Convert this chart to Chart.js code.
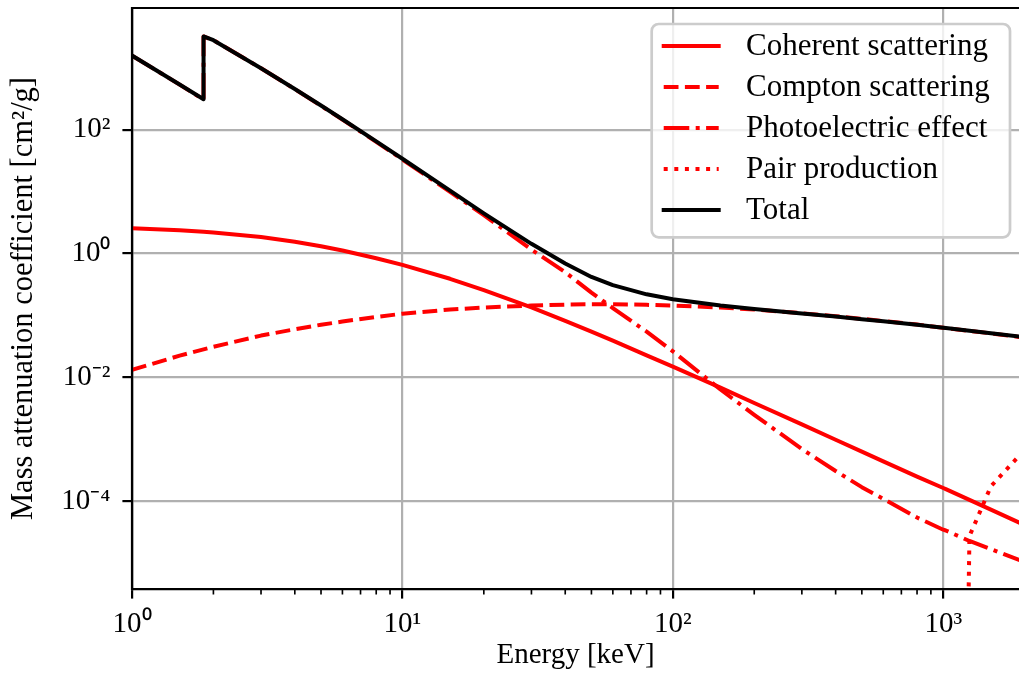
<!DOCTYPE html>
<html><head><meta charset="utf-8">
<script src="https://cdn.jsdelivr.net/npm/chart.js@4/dist/chart.umd.min.js"></script>
<style>html,body{margin:0;padding:0;background:#fff;} #wrap{width:1019px;height:675px;}</style>
</head><body><div id="wrap"><canvas id="c" width="1019" height="675"></canvas></div>
<script>
// ---- Data (silicon mass attenuation) ----
const energyKeV = [1, 1.5, 1.839, 1.839, 2, 3, 4, 5, 6, 8, 10, 15, 20, 30, 40, 50, 60, 80, 100, 150, 200, 300, 400, 500, 600, 800, 1000, 1022, 1250, 1500, 2000];
const coherent = [2.57, 2.37, 2.247, 2.247, 2.19, 1.85, 1.555, 1.315, 1.123, 0.842, 0.656, 0.392, 0.258, 0.135, 0.0823, 0.0551, 0.0393, 0.0228, 0.0150, 0.00685, 0.00388, 0.00175, 0.00099, 0.000637, 0.000444, 0.000251, 0.000165, 0.000158, 0.000106, 0.0000738, 0.0000416];
const compton = [0.0133, 0.0225, 0.0285, 0.0285, 0.0313, 0.0475, 0.0600, 0.0710, 0.0800, 0.0950, 0.1070, 0.1250, 0.1350, 0.1450, 0.1500, 0.1520, 0.1520, 0.1490, 0.1450, 0.1350, 0.1250, 0.1090, 0.0975, 0.0885, 0.0815, 0.0715, 0.0636, 0.0629, 0.0567, 0.0516, 0.0440];
const photoelectric = [1567, 533, 306, 3188, 2773, 976, 451, 243, 145, 63.4, 33.0, 9.9, 4.19, 1.16, 0.50, 0.235, 0.132, 0.055, 0.0265, 0.0064, 0.0025, 0.00070, 0.00031, 0.00017, 0.00011, 0.000055, 0.000035, 0.000034, 0.000023, 0.000017, 0.0000105];
// pair production: none below threshold (1022 keV, where it is effectively zero)
const pairProduction = [null, null, null, null, null, null, null, null, null, null, null, null, null, null, null, null, null, null, null, null, null, null, null, null, null, null, null, 1e-30, 0.0000275, 0.000175, 0.00068];
const total = [1570, 535.5, 309.2, 3192, 2777, 978.4, 452.9, 245.0, 147.0, 64.68, 33.89, 10.34, 4.464, 1.436, 0.69, 0.42, 0.31, 0.22, 0.1835, 0.1448, 0.1275, 0.1082, 0.09614, 0.08748, 0.08077, 0.07082, 0.06361, 0.06296, 0.05688, 0.05183, 0.04480];

const seriesNames = ['Coherent scattering', 'Compton scattering', 'Photoelectric effect', 'Pair production', 'Total'];
const xTickValues = [1, 10, 100, 1000];
const xTickLabels = ['10\u2070', '10\u00B9', '10\u00B2', '10\u00B3'];
const yTickValues = [1e-4, 1e-2, 1, 100];
const yTickLabels = ['10\u207B\u2074', '10\u207B\u00B2', '10\u2070', '10\u00B2'];
const xLabel = 'Energy [keV]';
const yLabel = 'Mass attenuation coefficient [cm\u00B2/g]';

function pts(vals) {
  return energyKeV.map((e, i) => ({x: e, y: vals[i]})).filter(p => p.y !== null);
}

const FONT = "'Liberation Serif', 'Times New Roman', serif";
const FS = 29;
Chart.defaults.font.family = FONT;
Chart.defaults.font.size = FS;
Chart.defaults.color = '#000';

const LW = 4;
const styles = [
  {color: '#ff0000', dash: []},
  {color: '#ff0000', dash: [3.7 * LW, 1.6 * LW]},
  {color: '#ff0000', dash: [6.4 * LW, 1.6 * LW, 1 * LW, 1.6 * LW]},
  {color: '#ff0000', dash: [1 * LW, 1.65 * LW]},
  {color: '#000000', dash: []}
];
const seriesData = [coherent, compton, photoelectric, pairProduction, total];

const datasets = seriesData.map((vals, i) => ({
  label: seriesNames[i],
  data: pts(vals),
  borderColor: styles[i].color,
  backgroundColor: styles[i].color,
  borderWidth: LW,
  borderDash: styles[i].dash,
  borderJoinStyle: 'round',
  borderCapStyle: 'butt',
  pointRadius: 0,
  tension: 0,
  fill: false,
  clip: 0,
  order: 5 - i
}));

const extras = {
  id: 'extras',
  afterDatasetsDraw(chart) {
    const ctx = chart.ctx, ca = chart.chartArea, s = chart.scales.x;
    ctx.save();
    // minor ticks on x axis
    ctx.strokeStyle = '#000';
    ctx.lineWidth = 1.65;
    for (let d = 0; d < 4; d++) {
      for (let m = 2; m <= 9; m++) {
        const v = m * Math.pow(10, d);
        if (v < s.min || v > s.max) continue;
        const px = s.getPixelForValue(v);
        ctx.beginPath();
        ctx.moveTo(px, ca.bottom);
        ctx.lineTo(px, ca.bottom + 5.5);
        ctx.stroke();
      }
    }
    // spines on top
    ctx.lineWidth = 2.2;
    ctx.lineCap = 'square';
    ctx.beginPath();
    ctx.moveTo(ca.left, ca.top); ctx.lineTo(ca.right + 2, ca.top);
    ctx.moveTo(ca.left, ca.top); ctx.lineTo(ca.left, ca.bottom);
    ctx.lineTo(ca.right + 2, ca.bottom);
    ctx.stroke();

    // legend box
    const bx = ca.right - 367.3, by = ca.top + 16, bw = 358.3, bh = 213.3, r = 7;
    ctx.beginPath();
    ctx.moveTo(bx + r, by);
    ctx.arcTo(bx + bw, by, bx + bw, by + bh, r);
    ctx.arcTo(bx + bw, by + bh, bx, by + bh, r);
    ctx.arcTo(bx, by + bh, bx, by, r);
    ctx.arcTo(bx, by, bx + bw, by, r);
    ctx.closePath();
    ctx.fillStyle = 'rgba(255,255,255,0.8)';
    ctx.fill();
    ctx.strokeStyle = '#cccccc';
    ctx.lineWidth = 2.7;
    ctx.stroke();

    chart.data.datasets.forEach((ds, i) => {
      const cy = by + 22 + i * 41;
      ctx.strokeStyle = ds.borderColor;
      ctx.lineWidth = LW;
      ctx.setLineDash(ds.borderDash);
      ctx.lineCap = ds.borderDash.length ? 'butt' : 'square';
      ctx.beginPath();
      ctx.moveTo(bx + 12, cy);
      ctx.lineTo(bx + 67, cy);
      ctx.stroke();
      ctx.setLineDash([]);
      ctx.fillStyle = '#000';
      ctx.font = '31px ' + FONT;
      ctx.textAlign = 'left';
      ctx.textBaseline = 'middle';
      ctx.fillText(ds.label, bx + 94.3, cy + 1);
    });
    ctx.restore();
  }
};

new Chart(document.getElementById('c'), {
  type: 'line',
  data: {datasets},
  plugins: [extras],
  options: {
    responsive: false,
    animation: false,
    devicePixelRatio: 1,
    layout: {padding: {top: 8, right: 0, left: 0, bottom: 0}},
    plugins: {legend: {display: false}, tooltip: {enabled: false}},
    scales: {
      x: {
        type: 'logarithmic', position: 'bottom', min: 1, max: 1906,
        afterBuildTicks: s => { s.ticks = xTickValues.map(v => ({value: v, major: true})); },
        afterFit: s => { s.height = 86; s.paddingLeft = 0; s.paddingRight = 0; },
        ticks: {autoSkip: false, maxRotation: 0, minRotation: 0, padding: 8, color: '#000',
          font: {size: FS, lineHeight: 1.2},
          callback: (v, i) => xTickLabels[i]},
        grid: {color: '#b0b0b0', lineWidth: 2.2, drawTicks: true, tickLength: 9.6, tickColor: '#000', tickWidth: 2.2},
        border: {display: true, color: '#000', width: 2.2},
        title: {display: true, text: xLabel, color: '#000', font: {size: FS, lineHeight: 1.2}, padding: {top: 0, bottom: 2}}
      },
      y: {
        type: 'logarithmic', position: 'left', min: Math.pow(10, -5.413), max: Math.pow(10, 3.963),
        afterBuildTicks: s => { s.ticks = yTickValues.map(v => ({value: v, major: true})); },
        afterFit: s => { s.width = 132; s.paddingTop = 0; s.paddingBottom = 0; },
        ticks: {autoSkip: false, padding: 12, color: '#000', font: {size: FS, lineHeight: 1.2},
          callback: (v, i) => yTickLabels[i]},
        grid: {color: '#b0b0b0', lineWidth: 2.2, drawTicks: true, tickLength: 9.6, tickColor: '#000', tickWidth: 2.2},
        border: {display: true, color: '#000', width: 2.2},
        title: {display: true, text: yLabel, color: '#000', font: {size: 30.5, lineHeight: 1.2}, padding: {top: 6, bottom: 0}}
      }
    }
  }
});
</script>
</body></html>
